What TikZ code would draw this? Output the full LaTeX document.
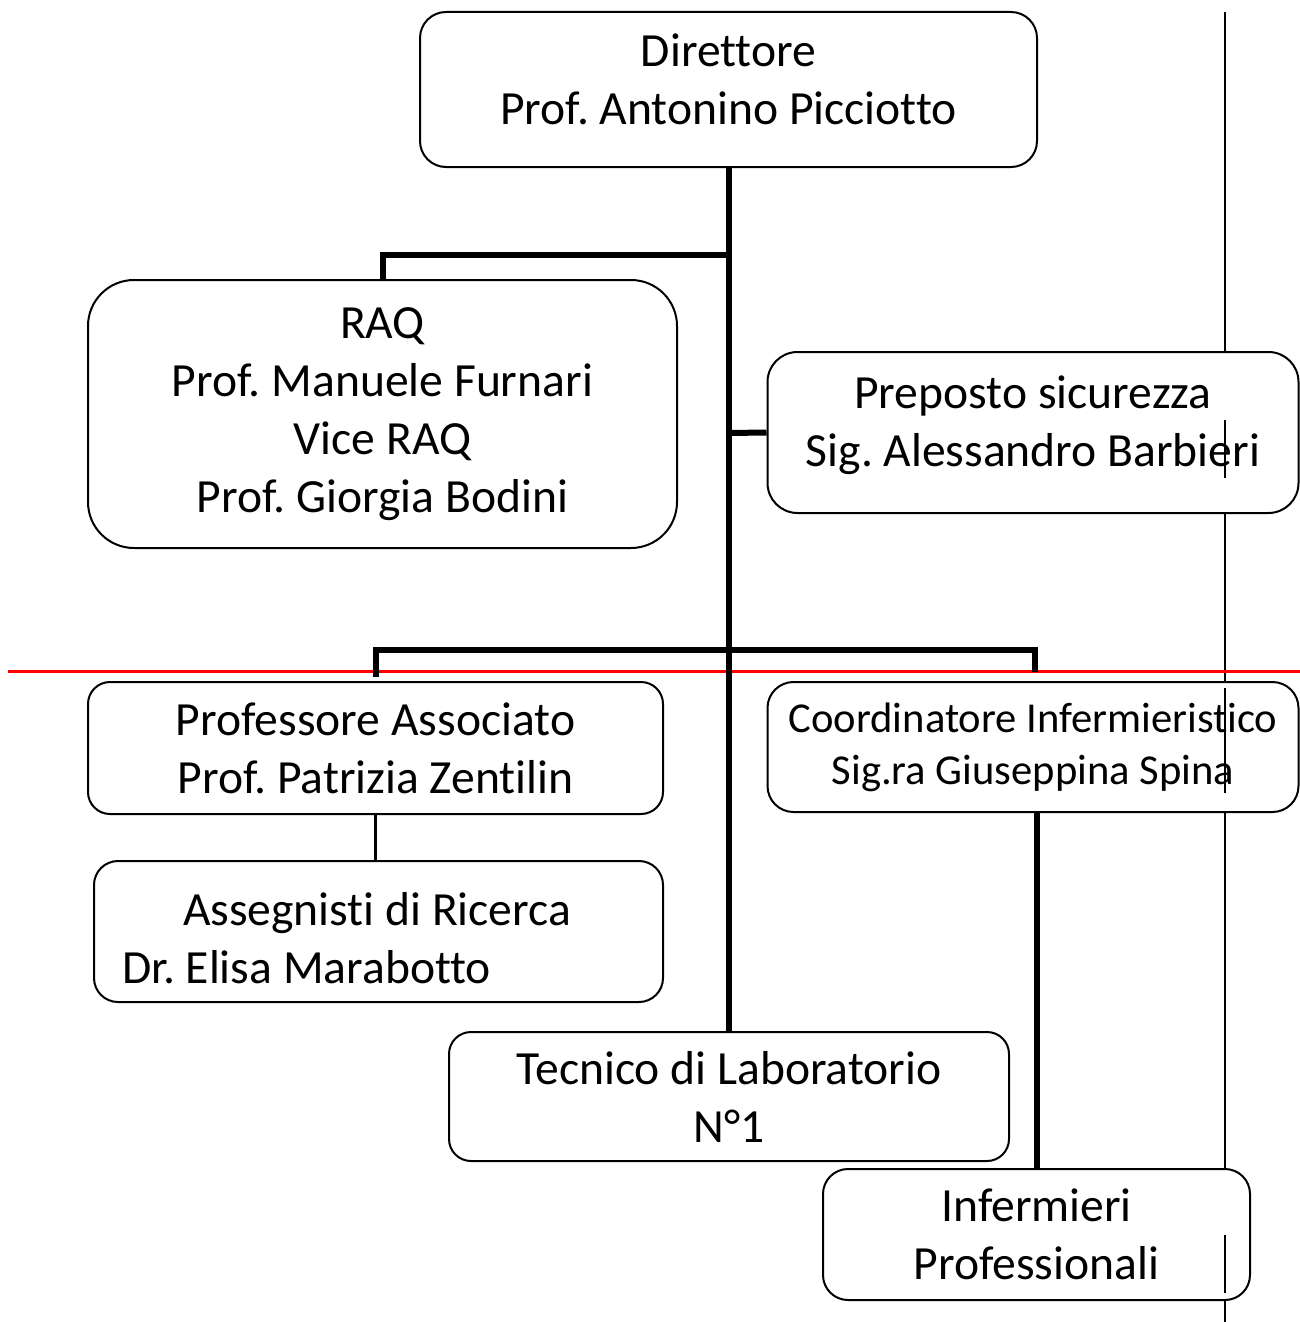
\documentclass[tikz,border=0pt]{standalone}
\usepackage{fontspec}
\setmainfont{Carlito}[Ligatures=NoCommon]
\usepackage{tikz}
\usetikzlibrary{positioning}
\frenchspacing

\begin{document}
\begin{tikzpicture}[x=0.5pt,y=-0.5pt,
  box/.style={draw, line width=1pt, fill=white, align=center, inner sep=0pt,
    font=\fontsize{23.8}{29}\selectfont},
  conn/.style={line width=3pt},
  thinconn/.style={line width=1.3pt}]
  \useasboundingbox (0,0) rectangle (1300,1322);

  %Straight Lines: margin line
  \coordinate (vtop) at (1225,12);
  \coordinate (vbot) at (1225,1322);
  \draw [line width=1.1pt] (vtop) -- (vbot);
  %Straight Lines: red line
  \coordinate (redL) at (8,671);
  \coordinate (redR) at (1300,671);
  \draw [color={rgb, 255:red, 255; green, 0; blue, 0}, line width=1.5pt] (redL) -- (redR);

  % Boxes
  \node [box, rounded corners=13pt, minimum width=308.5pt, minimum height=77.5pt, text depth=10pt] (dir) at (728.5,89.5)
    {Direttore\\Prof. Antonino Picciotto};
  \node [box, rounded corners=23pt, minimum width=294.5pt, minimum height=134pt] (raq) at (382.5,414)
    {RAQ\\Prof. Manuele Furnari\\Vice RAQ\\Prof. Giorgia Bodini};
  \node [box, rounded corners=15pt, minimum width=265.5pt, minimum height=80.5pt, text depth=11.5pt] (prep) at (1033,432.5)
    {Preposto sicurezza\\Sig. Alessandro Barbieri};
  \node [box, rounded corners=11pt, minimum width=287.5pt, minimum height=66pt] (prof) at (375.5,748)
    {Professore Associato\\Prof. Patrizia Zentilin};
  \node [box, rounded corners=12pt, minimum width=284.5pt, minimum height=70.5pt, text width=284.5pt, align=flush left] (asseg) at (378.5,931.5)
    {\hspace*{44.5pt}\rule{0pt}{23pt}Assegnisti di Ricerca\\\hspace*{14pt}Dr. Elisa Marabotto};
  \node [box, rounded corners=13pt, minimum width=265.5pt, minimum height=65pt,
    font=\fontsize{21.3}{26}\selectfont] (coord) at (1033,747)
    {Coordinatore Infermieristico\\Sig.ra Giuseppina Spina};
  \node [box, rounded corners=11pt, minimum width=280pt, minimum height=64.5pt] (tec) at (729,1096.5)
    {Tecnico di Laboratorio\\N°1};
  \node [box, rounded corners=12.5pt, minimum width=213.5pt, minimum height=65.5pt] (inf) at (1036.5,1234.5)
    {Infermieri\\Professionali};

  %Straight Lines: margin line seen through the texts
  \draw [line width=1.1pt] (1225,420) -- (1225,478);
  \draw [line width=1.1pt] (1225,688) -- (1225,793);
  \draw [line width=1.1pt] (1225,1235) -- (1225,1293);

  % Connectors
  \coordinate (jraq) at (728.5,255);
  \coordinate (jprep) at (728.5,433);
  \coordinate (jlow) at (728.5,650);
  \draw [conn] (dir.south) -- (dir.south |- tec.north);
  \draw [conn] (jraq) -| (raq.north);
  \draw [conn] (jprep) -- (prep.west);
  \draw [conn] ([yshift=2pt]prof.north) |- (jlow) -| ([xshift=1pt,yshift=4.5pt]coord.north);
  \draw [thinconn] (prof.south) -- (prof.south |- asseg.north);
  \draw [conn] (inf.north |- coord.south) -- (inf.north);

\end{tikzpicture}
\end{document}
